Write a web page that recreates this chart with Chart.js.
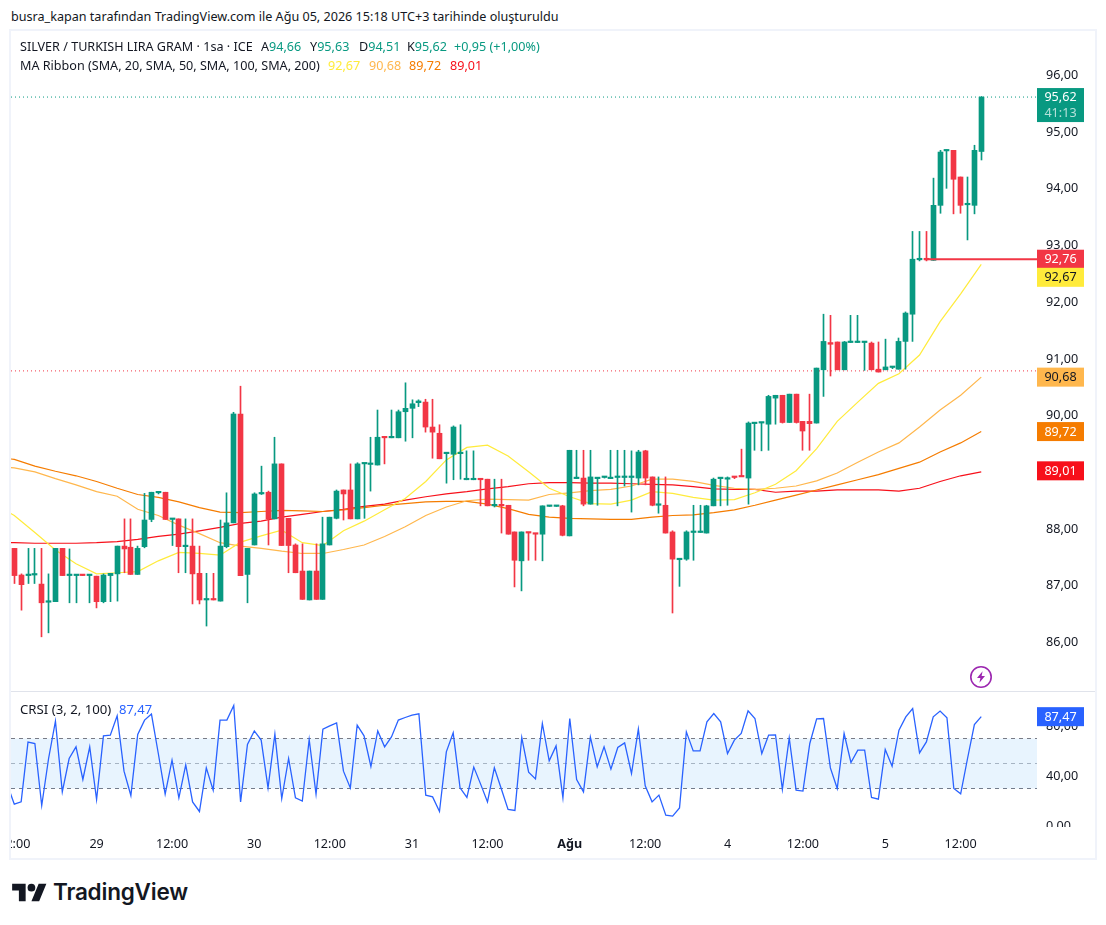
<!DOCTYPE html>
<html lang="tr">
<head>
<meta charset="utf-8">
<title>SILVER / TURKISH LIRA GRAM</title>
<script src="https://cdn.jsdelivr.net/npm/chart.js@4"></script>
<style>
  html, body { margin: 0; background: #fff; }
  body { width: 1106px; height: 925px; position: relative; overflow: hidden;
         font-family: "Noto Sans", sans-serif; font-size: 12.6px; color: #131722; }
  .abs { position: absolute; white-space: nowrap; line-height: 16px; }
  #frame { position: absolute; left: 9px; top: 29px; width: 1084px; height: 827px; border: 2px solid #f0f3fa; }
  #divider { position: absolute; left: 11px; top: 691px; width: 1084px; height: 1px; background: #e0e3eb; }
  #mainWrap { position: absolute; left: 11px; top: 31px; width: 1084px; height: 659px; }
  #crsiWrap { position: absolute; left: 11px; top: 692px; width: 1084px; height: 166px; }
  .up { color: #089981; }
  #brand { position: absolute; left: 53px; top: 878px; font-family: Inter, sans-serif; font-weight: 600; font-size: 22.5px; line-height: 28px; color: #131722; letter-spacing: -0.2px; }
</style>
</head>
<body>
<div class="abs" style="left:11px;top:9px">busra_kapan tarafından TradingView.com ile Ağu 05, 2026 15:18 UTC+3 tarihinde oluşturuldu</div>
<div id="frame"></div>
<div id="divider"></div>
<div id="mainWrap"><canvas id="mainChart"></canvas></div>
<div id="crsiWrap"><canvas id="crsiChart"></canvas></div>

<div class="abs" style="left:20px;top:39px">SILVER / TURKISH LIRA GRAM · 1sa · ICE</div>
<div class="abs" style="left:261px;top:39px">A<span class="up">94,66</span></div>
<div class="abs" style="left:310px;top:39px">Y<span class="up">95,63</span></div>
<div class="abs" style="left:359px;top:39px">D<span class="up">94,51</span></div>
<div class="abs" style="left:407px;top:39px">K<span class="up">95,62</span></div>
<div class="abs up" style="left:454px;top:39px">+0,95 (+1,00%)</div>
<div class="abs" style="left:20px;top:58px">MA Ribbon (SMA, 20, SMA, 50, SMA, 100, SMA, 200)</div>
<div class="abs" style="left:328px;top:58px;color:#ffeb3b">92,67</div>
<div class="abs" style="left:369px;top:58px;color:#ffb74d">90,68</div>
<div class="abs" style="left:409px;top:58px;color:#f57c00">89,72</div>
<div class="abs" style="left:450px;top:58px;color:#f7101a">89,01</div>
<div class="abs" style="left:20px;top:701px;font-size:13.2px">CRSI (3, 2, 100)</div>
<div class="abs" style="left:119px;top:701px;color:#2962ff;font-size:13px">87,47</div>

<svg class="abs" style="left:969px;top:665px" width="24" height="24" viewBox="0 0 24 24">
  <circle cx="12" cy="12" r="10.2" fill="#fff" stroke="#9c27b0" stroke-width="1.6"/>
  <path d="M13.6 6.2 8 13h3.4l-1 4.8L16 11h-3.4z" fill="#9c27b0"/>
</svg>
<svg class="abs" style="left:12px;top:880px" width="35" height="27" viewBox="0 0 36 28">
  <path d="M14 22H7V11H0V4h14v18zM28 22h-8l7.5-18h8L28 22z" fill="#131722"/>
  <circle cx="20" cy="8" r="4" fill="#131722"/>
</svg>
<div id="brand">TradingView</div>

<script>
// hourly bars
const opens = [
  87.66,87.19,87.18,87.19,87.03,86.71,86.72,87.66,87.18,87.18,
  87.19,87.18,87.17,86.72,87.18,87.21,87.70,87.68,87.20,87.69,
  88.17,88.64,88.65,88.17,88.18,87.69,87.70,87.22,86.75,86.76,
  86.73,87.69,88.11,90.03,87.20,87.72,88.62,88.65,88.18,89.15,
  88.19,87.72,87.26,86.75,87.26,86.76,87.72,88.19,88.69,88.69,
  88.18,89.15,89.14,89.13,89.62,89.61,89.61,90.07,90.13,90.23,
  90.24,89.80,89.69,89.33,89.32,89.33,88.87,88.87,88.88,88.88,
  88.41,88.42,88.42,87.95,87.44,87.94,87.92,87.91,88.40,88.40,
  88.41,87.88,88.89,88.90,88.44,88.89,88.91,88.89,88.91,88.91,
  88.91,88.90,89.38,88.92,88.42,88.42,87.95,87.46,87.47,87.94,
  87.94,87.93,88.41,88.89,88.88,88.92,88.93,88.90,89.86,89.87,
  89.85,90.31,90.36,89.88,90.38,89.90,89.90,89.87,90.81,91.29,
  91.30,90.81,91.29,91.29,91.29,91.28,90.82,90.81,90.85,90.82,
  91.31,91.79,92.75,92.76,92.74,93.71,94.67,94.68,94.21,93.72,
  93.71,94.66];
const highs = [
  87.66,87.21,87.66,87.66,87.66,87.21,87.66,87.66,87.65,87.19,
  87.19,87.19,87.17,87.21,87.22,87.70,88.18,88.18,87.70,88.63,
  88.65,88.66,88.65,88.18,88.18,88.18,88.18,87.70,87.22,87.22,
  88.16,88.64,90.06,90.52,87.66,88.64,89.11,88.67,89.62,89.15,
  88.19,87.74,87.74,87.26,87.74,88.21,88.21,88.69,88.69,89.15,
  89.17,89.16,89.62,90.10,89.62,90.10,90.10,90.58,90.28,90.28,
  90.29,90.29,89.84,89.34,89.82,89.84,89.38,89.38,88.88,88.88,
  88.88,88.88,88.42,87.95,87.95,87.94,87.92,88.41,88.41,88.41,
  88.42,89.39,89.39,89.39,89.39,88.90,88.92,89.39,89.39,89.39,
  89.38,89.39,89.39,88.92,88.92,88.92,87.97,87.48,87.97,88.42,
  88.42,88.42,88.90,88.90,88.92,88.92,89.41,89.89,89.88,89.88,
  90.36,90.36,90.36,90.38,90.38,89.90,90.38,90.84,91.79,91.77,
  91.30,91.31,91.77,91.77,91.30,91.30,91.30,91.35,90.87,91.37,
  91.83,93.25,93.25,93.25,94.19,94.68,94.69,94.68,94.21,94.21,
  94.77,95.63];
const lows = [
  87.04,86.57,87.04,87.04,86.10,86.17,86.72,87.18,86.70,86.70,
  87.18,86.70,86.61,86.70,86.72,86.73,87.23,87.20,87.20,87.67,
  88.13,88.62,88.17,87.71,87.23,87.23,86.68,86.68,86.29,86.75,
  86.73,87.67,88.11,87.18,86.70,87.72,88.61,87.72,88.18,87.71,
  87.23,87.23,86.76,86.75,86.76,86.76,87.72,88.18,88.16,88.18,
  88.18,88.19,88.67,89.13,89.15,89.61,89.61,89.55,89.61,90.16,
  89.71,89.25,89.24,88.81,88.87,88.88,88.87,88.87,88.41,88.41,
  88.39,87.93,87.91,86.98,86.91,87.45,87.45,87.44,88.40,88.40,
  87.88,87.88,88.89,88.41,88.44,88.42,88.90,88.89,88.41,88.76,
  88.30,88.78,88.78,88.41,88.28,87.93,86.52,86.99,87.45,87.45,
  87.94,87.93,88.41,88.41,88.42,88.89,88.93,88.44,89.39,89.38,
  89.39,89.85,89.87,89.88,89.87,89.39,89.39,89.87,90.34,90.70,
  90.81,90.81,91.29,91.29,90.80,90.81,90.77,90.81,90.83,90.82,
  90.82,91.31,92.73,92.73,92.74,93.57,94.01,93.56,93.57,93.10,
  93.56,94.51];
const closes = [
  87.18,87.02,87.19,87.20,86.70,86.72,87.66,87.18,87.19,87.19,
  87.18,87.19,86.72,87.19,87.22,87.70,87.65,87.20,87.66,88.16,
  88.65,88.65,88.17,88.18,87.69,87.70,87.21,86.75,86.76,86.75,
  87.70,88.11,90.03,87.18,87.66,88.62,88.63,88.18,89.15,87.71,
  87.71,87.23,86.76,87.26,86.76,87.74,88.21,88.67,88.62,88.18,
  89.15,89.16,89.15,89.62,89.61,89.62,90.07,90.13,90.21,90.26,
  89.80,89.71,89.24,89.34,89.80,89.34,88.88,88.88,88.87,88.41,
  88.42,88.41,87.91,87.45,87.95,87.93,87.91,88.41,88.41,88.41,
  87.89,89.39,88.90,88.44,88.92,88.90,88.92,88.90,88.92,88.92,
  88.92,89.36,88.90,88.42,88.43,87.93,87.47,87.47,87.95,87.95,
  87.95,88.41,88.88,88.90,88.89,88.91,88.92,89.87,89.88,89.88,
  90.34,90.36,89.88,90.38,89.88,89.73,89.86,90.84,91.31,91.26,
  90.81,91.30,91.30,91.30,91.30,90.81,90.77,90.86,90.86,91.31,
  91.81,92.76,92.76,92.75,93.71,94.65,94.68,94.17,93.71,93.73,
  94.68,95.62];

// moving averages, one reading every third bar, first one just off the left edge
const maStep = 3;
const ma20 = [88.44,
  88.24,87.94,87.63,87.39,87.21,87.23,87.25,87.44,87.59,87.57,87.54,87.77,
  87.88,87.98,87.76,87.71,87.97,88.14,88.34,88.54,88.84,89.22,89.44,89.48,
  89.29,89.01,88.72,88.57,88.45,88.44,88.51,88.66,88.63,88.56,88.51,88.52,
  88.64,88.79,89.03,89.42,89.90,90.24,90.57,90.74,91.07,91.66,92.15,92.67];
const ma50 = [89.10,
  89.08,89.01,88.89,88.78,88.66,88.58,88.35,88.24,88.07,87.92,87.76,87.70,
  87.66,87.61,87.57,87.57,87.64,87.72,87.87,88.04,88.24,88.39,88.50,88.53,
  88.52,88.51,88.61,88.64,88.68,88.70,88.76,88.88,88.88,88.84,88.77,88.72,
  88.70,88.72,88.76,88.85,88.99,89.18,89.36,89.52,89.80,90.10,90.36,90.68];
const ma100 = [89.27,
  89.23,89.11,89.02,88.94,88.84,88.72,88.61,88.56,88.48,88.38,88.30,88.29,
  88.31,88.33,88.32,88.31,88.34,88.38,88.42,88.45,88.48,88.49,88.49,88.44,
  88.36,88.26,88.21,88.19,88.18,88.17,88.17,88.21,88.24,88.25,88.29,88.34,
  88.42,88.51,88.60,88.69,88.78,88.87,88.96,89.07,89.18,89.36,89.52,89.72];
const ma200 = [87.76,
  87.76,87.75,87.75,87.75,87.76,87.78,87.82,87.87,87.91,87.97,88.03,88.10,
  88.14,88.21,88.26,88.31,88.35,88.40,88.44,88.51,88.57,88.62,88.66,88.71,
  88.75,88.80,88.82,88.82,88.81,88.81,88.80,88.79,88.78,88.75,88.71,88.70,
  88.70,88.65,88.67,88.67,88.69,88.69,88.69,88.67,88.72,88.84,88.94,89.01];

// first reading belongs to the bar just left of the first candle
const crsi = [
  32.7,17.5,19.3,67.1,66,16.4,54,83.9,27.3,54,63.3,
  37.2,63.3,21.2,72.1,72.7,88.1,43.9,24.4,73.2,84.7,
  89.5,58,25.5,52.7,22.5,48.9,19.3,11.6,46.5,28.7,
  84.7,84.7,96.4,19.3,65.2,76.1,68.7,30.5,73.5,22,
  54,22.5,19.9,69.2,25.5,77.5,80.1,82.5,43.9,30.5,
  80.7,72.1,47.6,76.1,63.3,71.3,84.7,86.8,88.7,89.7,
  24.7,23.3,11.6,59.3,74.5,30.5,22.8,47.1,33.5,19.3,
  46.5,30,13.2,12.4,70.8,43.1,37.7,82,52.1,64.1,
  22.5,86,37.2,27.3,71.3,47.3,63.3,45.5,62.8,66.5,
  42,77.5,32.1,19.3,24.7,8.7,7.9,14.5,75.3,60.1,
  60.1,83.3,90,83.3,58,68.7,74,92.1,86,58,
  72.7,72.9,29.2,70.5,28.7,27.9,66,85.7,86,46.5,
  30,74,50.8,60.7,60.7,22.8,21.5,61.2,47.9,76.7,
  87.3,94,58.5,67.3,87.3,91.9,86.5,30,25.7,54,
  81.2,87.47];

const priceTicks = [86, 87, 88, 89, 90, 91, 92, 93, 94, 95, 96];
const crsiTicks = [0, 40, 80];
const crsiUpper = 70, crsiMiddle = 50, crsiLower = 30;
const timeTickBars = [0, 12, 23, 35, 46, 58, 69, 81, 92, 104, 115, 127, 138];
const timeTickLabels = ['12:00', '29', '12:00', '30', '12:00', '31', '12:00', 'Ağu', '12:00', '4', '12:00', '5', '12:00'];

const lastClose = 95.62, countdown = '41:13';
const prevLevel = 90.79;       // red dotted line
const stopLevel = 92.76, stopLevelFromBar = 132.7;
const lastMa20 = 92.67, lastMa50 = 90.68, lastMa100 = 89.72, lastMa200 = 89.01;
const lastCrsi = 87.47;

const GREEN = '#089981', RED = '#f23645';
const C_MA20 = '#ffeb3b', C_MA50 = '#ffb74d', C_MA100 = '#f57c00', C_MA200 = '#f7101a';
const C_CRSI = '#2962ff';
const FONT = '"Noto Sans", sans-serif';
const TEXT = '#131722';

// x range of the panes, in bar numbers (bars stay 6.857px apart)
const xMin = -0.48, xMax = 149.13;

const comma = v => v.toFixed(2).replace('.', ',');
const hLine = (y, from = xMin) => [{ x: from, y }, { x: xMax, y }];
const maPoints = arr => arr.map((v, k) => ({ x: (k - 1) * maStep, y: v }));
const candleColors = opens.map((o, i) => (closes[i] >= o ? GREEN : RED));

function label(ctx, text, x, y, color) {
  ctx.fillStyle = color;
  ctx.fillText(text, x, y);
}

// whole pixel x for the candles so wicks stay 1px sharp
const snapCandles = {
  id: 'snapCandles',
  afterDatasetsUpdate(chart) {
    chart.data.datasets.forEach((ds, i) => {
      if (ds.type !== 'bar') return;
      chart.getDatasetMeta(i).data.forEach(el => { el.x = Math.floor(el.x) + 0.5; });
    });
  }
};

// price labels on the right axis
const mainBadges = {
  id: 'mainBadges',
  afterDraw(chart) {
    const { ctx, chartArea, scales } = chart;
    const left = chartArea.right, w = 47, h = 19;
    const cx = left + w / 2;
    ctx.save();
    ctx.font = '12.6px ' + FONT;
    ctx.textAlign = 'center';
    ctx.textBaseline = 'middle';

    const rows = [
      { v: stopLevel, bg: RED, fg: '#fff', shift: 0 },
      { v: lastMa20, bg: C_MA20, fg: TEXT, shift: 13 },
      { v: lastMa50, bg: C_MA50, fg: TEXT, shift: 0 },
      { v: lastMa100, bg: C_MA100, fg: '#fff', shift: 0 },
      { v: lastMa200, bg: C_MA200, fg: '#fff', shift: -1 }
    ];
    rows.forEach(r => {
      const y = scales.y.getPixelForValue(r.v) + r.shift;
      ctx.fillStyle = r.bg;
      ctx.fillRect(left, y - h / 2, w, h);
      label(ctx, comma(r.v), cx, y + 0.5, r.fg);
    });

    // last price with the bar countdown under it
    const y = scales.y.getPixelForValue(lastClose);
    ctx.fillStyle = GREEN;
    ctx.fillRect(left, y - 9, w, 34);
    label(ctx, comma(lastClose), cx, y + 0.5, '#fff');
    label(ctx, countdown, cx, y + 16.5, 'rgba(255,255,255,0.7)');
    ctx.restore();
  }
};

const crsiBadge = {
  id: 'crsiBadge',
  afterDraw(chart) {
    const { ctx, chartArea, scales } = chart;
    const left = chartArea.right, w = 47, h = 19;
    ctx.save();
    // the lowest tick label is cut off by the pane edge
    ctx.fillStyle = '#fff';
    ctx.fillRect(left, chartArea.bottom, chart.width - left, 8);
    const y = scales.y.getPixelForValue(lastCrsi);
    ctx.fillStyle = C_CRSI;
    ctx.fillRect(left, y - h / 2, w, h);
    ctx.font = '12.6px ' + FONT;
    ctx.textAlign = 'center';
    ctx.textBaseline = 'middle';
    label(ctx, comma(lastCrsi), left + w / 2, y + 0.5, '#fff');
    ctx.restore();
  }
};

function xScale(display) {
  const s = {
    type: 'linear',
    offset: false,
    min: xMin,
    max: xMax,
    display,
    grid: { display: false },
    border: { display: false },
    afterBuildTicks(axis) { axis.ticks = timeTickBars.map(v => ({ value: v })); },
    afterFit(axis) {
      axis.paddingLeft = 0;
      axis.paddingRight = 0;
      if (display) axis.height = 31;
    },
    ticks: {
      autoSkip: false,
      maxRotation: 0,
      minRotation: 0,
      padding: 2,
      color: TEXT,
      font: ctx => ({ family: FONT, size: 12.6, weight: timeTickLabels[ctx.index] === 'Ağu' ? 'bold' : 'normal' }),
      callback: (v, i) => timeTickLabels[i]
    }
  };
  return s;
}

function yScale(min, max, list) {
  return {
    type: 'linear',
    position: 'right',
    min,
    max,
    beginAtZero: false,
    grid: { display: false, drawTicks: false },
    border: { display: false },
    afterBuildTicks(axis) { axis.ticks = list.map(v => ({ value: v })); },
    afterFit(axis) {
      axis.width = 58;
      axis.paddingTop = 0;
      axis.paddingBottom = 0;
    },
    ticks: {
      padding: 9,
      crossAlign: 'near',
      color: TEXT,
      font: { family: FONT, size: 12.6 },
      callback: v => comma(v)
    }
  };
}

const baseOptions = {
  responsive: false,
  animation: false,
  events: [],
  layout: { padding: 0 },
  plugins: { legend: { display: false }, tooltip: { enabled: false } }
};

function lineSet(data, color, width, order, extra) {
  return Object.assign({
    type: 'line', data, order,
    borderColor: color, borderWidth: width,
    pointRadius: 0, tension: 0, fill: false
  }, extra || {});
}

function fit(id, w, h) {
  const c = document.getElementById(id);
  c.width = w; c.height = h;
  c.style.width = w + 'px'; c.style.height = h + 'px';
  c.style.display = 'block';
  return c;
}

new Chart(fit('mainChart', 1084, 659), {
  type: 'bar',
  plugins: [snapCandles, mainBadges],
  data: {
    datasets: [
      lineSet(hLine(stopLevel, stopLevelFromBar), RED, 2, 0),
      {
        type: 'bar', order: 1, grouped: false,
        data: opens.map((o, i) => ({ x: i, y: [o, closes[i]] })),
        backgroundColor: candleColors, barThickness: 5, minBarLength: 1.5
      },
      {
        type: 'bar', order: 2, grouped: false,
        data: lows.map((l, i) => ({ x: i, y: [l, highs[i]] })),
        backgroundColor: candleColors, barThickness: 1
      },
      lineSet(maPoints(ma20), C_MA20, 1.2, 3),
      lineSet(maPoints(ma50), C_MA50, 1.2, 4),
      lineSet(maPoints(ma100), C_MA100, 1.2, 5),
      lineSet(maPoints(ma200), C_MA200, 1.2, 6),
      lineSet(hLine(lastClose), GREEN, 1, 7, { borderDash: [1, 3] }),
      lineSet(hLine(prevLevel), RED, 1, 8, { borderDash: [1, 3] })
    ]
  },
  options: Object.assign({}, baseOptions, {
    scales: { x: xScale(false), y: yScale(85.162, 96.785, priceTicks) }
  })
});

new Chart(fit('crsiChart', 1084, 166), {
  type: 'line',
  plugins: [crsiBadge],
  data: {
    datasets: [
      lineSet(crsi.map((v, i) => ({ x: i - 1, y: v })), C_CRSI, 1.3, 0),
      lineSet(hLine(crsiUpper), '#787b86', 1, 1, {
        borderDash: [4, 4],
        fill: { target: { value: crsiLower } },
        backgroundColor: 'rgba(33,150,243,0.1)'
      }),
      lineSet(hLine(crsiMiddle), 'rgba(120,123,134,0.55)', 1, 2, { borderDash: [4, 4] }),
      lineSet(hLine(crsiLower), '#787b86', 1, 3, { borderDash: [4, 4] })
    ]
  },
  options: Object.assign({}, baseOptions, {
    scales: { x: xScale(true), y: yScale(-0.8, 107.2, crsiTicks) }
  })
});
</script>
</body>
</html>
